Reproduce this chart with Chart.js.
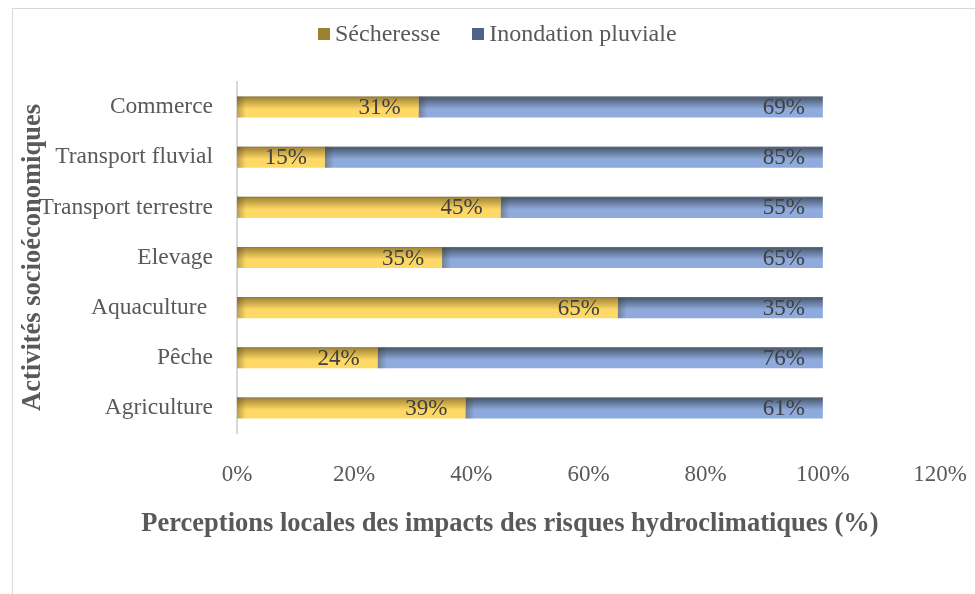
<!DOCTYPE html>
<html>
<head>
<meta charset="utf-8">
<script src="https://cdn.jsdelivr.net/npm/chart.js@4.4.0/dist/chart.umd.min.js"></script>
<style>
  html, body { margin: 0; padding: 0; background: #fff; overflow: hidden; }
  #wrap { position: relative; width: 975px; height: 594px; }
  #frame { position: absolute; left: 12px; top: 8px; width: 1200px; height: 800px; border: 1px solid #d9d9d9; box-sizing: border-box; }
  #myChart { position: absolute; left: 0; top: 0; }
  #legend-container ul { list-style: none; margin: 0; padding: 0; display: flex; position: absolute; left: 318px; top: 20px; }
  #legend-container li { font-family: 'Liberation Serif', 'Times New Roman', serif; font-size: 24px; color: #595959; margin-right: 32px; display: flex; align-items: center; }
  #legend-container li span { display: inline-block; width: 12px; height: 12px; margin-right: 5px; }
</style>
</head>
<body>
<div id="wrap">
  <div id="frame"></div>
  <canvas id="myChart" width="975" height="594"></canvas>
  <div id="legend-container"></div>
</div>
<script>
const categories = ['Commerce', 'Transport fluvial', 'Transport terrestre', 'Elevage', 'Aquaculture ', 'Pêche', 'Agriculture'];
const secheresse = [31, 15, 45, 35, 65, 24, 39];
const inondation = [69, 85, 55, 65, 35, 76, 61];
const seriesNames = ['Sécheresse', 'Inondation pluviale'];
const xTicks = [0, 20, 40, 60, 80, 100, 120];
const xTitle = 'Perceptions locales des impacts des risques hydroclimatiques (%)';
const yTitle = 'Activités socioéconomiques';

const serif = "'Liberation Serif', 'Times New Roman', serif";
const grey = '#595959';

// vertical shading like the office chart (dark top edge)
function barGradient(dark, light) {
  return function (context) {
    const chart = context.chart;
    const yScale = chart.scales.y;
    if (!chart.chartArea || !yScale) return light;
    const yc = yScale.getPixelForValue(context.dataIndex);
    const g = chart.ctx.createLinearGradient(0, yc - 10.5, 0, yc + 10.5);
    g.addColorStop(0, dark);
    g.addColorStop(0.6, light);
    g.addColorStop(1, light);
    return g;
  };
}

// darker left edge of each segment + thin top line
const barShade = {
  id: 'barShade',
  afterDatasetsDraw(chart) {
    const ctx = chart.ctx;
    ctx.save();
    chart.data.datasets.forEach((ds, i) => {
      chart.getDatasetMeta(i).data.forEach((bar) => {
        const top = bar.y - bar.height / 2;
        const g = ctx.createLinearGradient(bar.base, 0, bar.base + 9, 0);
        g.addColorStop(0, 'rgba(60,50,20,0.35)');
        g.addColorStop(1, 'rgba(60,50,20,0)');
        ctx.fillStyle = g;
        ctx.fillRect(bar.base, top, 9, bar.height);
        ctx.fillStyle = 'rgba(120,120,120,0.6)';
        ctx.fillRect(bar.base, top, bar.x - bar.base, 1);
      });
    });
    ctx.restore();
  }
};

const valueLabels = {
  id: 'valueLabels',
  afterDatasetsDraw(chart) {
    const ctx = chart.ctx;
    ctx.save();
    ctx.font = '23px ' + serif;
    ctx.fillStyle = '#404040';
    ctx.textAlign = 'right';
    ctx.textBaseline = 'middle';
    chart.data.datasets.forEach((ds, i) => {
      chart.getDatasetMeta(i).data.forEach((bar, j) => {
        ctx.fillText(ds.data[j] + '%', bar.x - 18, bar.y + 1);
      });
    });
    ctx.restore();
  }
};

// x title is not centred on the plot in the original, so it is drawn by hand
const xAxisTitle = {
  id: 'xAxisTitle',
  afterDraw(chart) {
    const ctx = chart.ctx;
    ctx.save();
    ctx.font = 'bold 26.5px ' + serif;
    ctx.fillStyle = grey;
    ctx.textAlign = 'center';
    ctx.textBaseline = 'middle';
    ctx.fillText(xTitle, 510, chart.chartArea.bottom + 91);
    ctx.restore();
  }
};

const legendColors = ['#9c822e', '#4d6189'];
let ul = document.createElement('ul');
seriesNames.forEach((name, i) => {
  ul.innerHTML += `<li><span style="background:${legendColors[i]}"></span>${name}</li>`;
});
document.getElementById('legend-container').appendChild(ul);

const ctx = document.getElementById('myChart').getContext('2d');
new Chart(ctx, {
  type: 'bar',
  data: {
    labels: categories,
    datasets: [
      { label: seriesNames[0], data: secheresse, backgroundColor: barGradient('#9e8132', '#ffd966') },
      { label: seriesNames[1], data: inondation, backgroundColor: barGradient('#44546a', '#8faadc') }
    ]
  },
  options: {
    indexAxis: 'y',
    responsive: false,
    animation: false,
    categoryPercentage: 0.8,
    barPercentage: 0.525,
    layout: { padding: { left: 12, top: 82, right: 35, bottom: 56 } },
    plugins: {
      legend: { display: false },
      tooltip: { enabled: false }
    },
    scales: {
      x: {
        stacked: true,
        min: 0,
        max: 120,
        afterBuildTicks: (scale) => { scale.ticks = xTicks.map(v => ({ value: v })); },
        afterFit: (scale) => {
          scale.height = 105;
          scale.paddingLeft = 0;
          scale.paddingRight = 0;
        },
        grid: { display: false, drawTicks: false },
        border: { display: false },
        ticks: {
          padding: 28,
          color: grey,
          font: { family: serif, size: 23 },
          callback: (v) => v + '%'
        }
      },
      y: {
        stacked: true,
        afterFit: (scale) => { scale.width = 225; },
        grid: { display: false, drawTicks: false },
        border: { display: true, color: '#d9d9d9', width: 2 },
        ticks: {
          padding: 24,
          color: grey,
          font: { family: serif, size: 23.5 }
        },
        title: {
          display: true,
          text: yTitle,
          color: grey,
          font: { family: serif, size: 26.5, weight: 'bold' },
          padding: { top: 5, bottom: 0 }
        }
      }
    }
  },
  plugins: [barShade, valueLabels, xAxisTitle]
});
</script>
</body>
</html>
